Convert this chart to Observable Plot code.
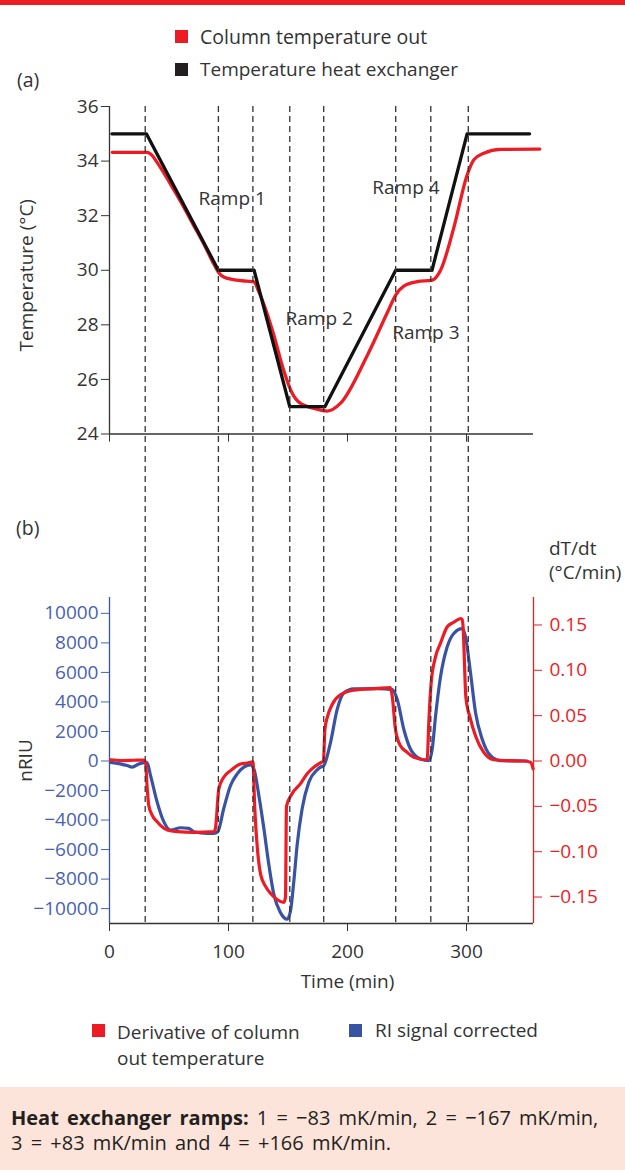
<!DOCTYPE html>
<html><head><meta charset="utf-8">
<script src="https://cdn.jsdelivr.net/npm/d3@7"></script>
<script src="https://cdn.jsdelivr.net/npm/@observablehq/plot@0.6"></script>
<style>
body{margin:0;width:625px;height:1170px;position:relative;background:#fff;font-family:"Open Sans",sans-serif;color:#333;overflow:hidden}
.abs{position:absolute;white-space:nowrap}
.txt{font-size:19.5px;line-height:22px}
.sw{position:absolute;width:13px;height:13px}
svg{position:absolute;left:0;overflow:visible}
</style></head><body>
<div class="abs" style="left:0;top:0;width:625px;height:5px;background:#ed1c24"></div>
<div class="sw" style="left:175px;top:30px;background:#ed1c24"></div>
<div class="abs txt" style="left:200px;top:26px">Column temperature out</div>
<div class="sw" style="left:175px;top:63px;background:#231f20"></div>
<div class="abs txt" style="left:200px;top:58px;font-size:19px">Temperature heat exchanger</div>
<div class="abs txt" style="left:17px;top:69px">(a)</div>
<div class="abs txt" style="left:16px;top:517px">(b)</div>
<div class="abs txt" style="left:549px;top:536px;line-height:24px;font-size:19px">dT/dt<br>(°C/min)</div>
<div id="pa"></div><div id="pb"></div><div id="pd"></div>
<div class="sw" style="left:92px;top:1024px;background:#ed1c24"></div>
<div class="abs txt" style="left:117px;top:1019px;line-height:26px;font-size:19px">Derivative of column<br>out temperature</div>
<div class="sw" style="left:349px;top:1024px;background:#3953a4"></div>
<div class="abs txt" style="left:375px;top:1019px;font-size:19px">RI signal corrected</div>
<div class="abs" style="left:0;top:1087px;width:625px;height:83px;background:#fce4da"></div>
<div class="abs" style="left:11px;top:1105px;font-size:20px;line-height:25px;word-spacing:3px;color:#231f20"><b>Heat exchanger ramps:</b> 1 = −83 mK/min, 2 = −167 mK/min,<br>3 = +83 mK/min and 4 = +166 mK/min.</div>
<script>
// ---- data ----
const dashTimes = [30, 91.5, 120.5, 151.5, 180, 240.5, 270, 301.5];
const timeTicks = [0, 100, 200, 300];
const tempTicks = [24, 26, 28, 30, 32, 34, 36];
const riTicks = [-10000, -8000, -6000, -4000, -2000, 0, 2000, 4000, 6000, 8000, 10000];
const dTicks = [-0.15, -0.10, -0.05, 0, 0.05, 0.10, 0.15];
const rampNames = ["Ramp 1", "Ramp 2", "Ramp 3", "Ramp 4"];
const rampTime = [74.8, 147.9, 237.6, 220.8];
const rampTemp = [32.6, 28.2, 27.7, 33.0];
// [time (min), temperature (°C)]
const heatExchanger = [[2,35],[31,35],[91.5,30],[121.5,30],[151.5,25],[181,25],[240.5,30],[271,30],[300.5,35],[353,35]];
const columnOut = [[2.3,34.32],[31.7,34.32],[36,34.2],[40,33.95],[50,33.25],[60,32.5],[70,31.7],[80,30.9],[88,30.2],[92,29.9],[96,29.75],[105,29.65],[115,29.6],[121,29.58],[126,29.16],[137.5,27.71],[146,26.38],[153,25.54],[160.5,25.12],[172,24.94],[183,24.84],[194,25.12],[216.5,26.87],[233.4,28.44],[240.6,29.1],[247.3,29.42],[258.6,29.58],[271.2,29.64],[278.2,30.0],[289.4,31.57],[300.6,33.5],[306.2,34.05],[314.6,34.29],[328.6,34.43],[361.6,34.44]];
// [time (min), nRIU]
const riSignal = [[0.8,-90],[14.9,-310],[19.1,-420],[24.6,-200],[30.3,-90],[31.5,-100],[34.5,-990],[40,-2770],[45.6,-4110],[51.3,-4680],[59.7,-4520],[66.7,-4560],[70.8,-4790],[82.1,-4900],[87.7,-4900],[91,-4790],[96,-3220],[101.7,-1660],[107.3,-870],[112.9,-420],[118.5,-270],[121.3,-540],[125.5,-2330],[129.7,-4560],[133.9,-7030],[138.1,-9040],[143.7,-10270],[149.3,-10720],[152.1,-10160],[154.9,-8140],[157.7,-5680],[161.9,-3220],[167.5,-1430],[174.5,-600],[177.3,-420],[180.1,-310],[185.7,1250],[191.3,3490],[196.9,4610],[205.3,4880],[225,4900],[237.6,4830],[241.8,4160],[247.3,2150],[252.9,810],[261.3,130],[268.3,20],[271.2,810],[274,3040],[278.2,5720],[283.8,7740],[289.3,8640],[296.4,8970],[299.2,8410],[303.4,5950],[307.6,3270],[313.2,1480],[320.2,360],[328.6,20],[351,0]];
// [time (min), dT/dt (°C/min)]
const derivative = [[0.8,0.0014],[10,0.0005],[20.4,0.0008],[28.8,0.001],[30.3,-0.0014],[31.7,-0.0306],[33,-0.049],[35.8,-0.0597],[40,-0.067],[48.5,-0.0761],[56.9,-0.0779],[70.8,-0.0786],[87.7,-0.0779],[89,-0.0743],[91.9,-0.0306],[96,-0.0179],[101.7,-0.0106],[110.1,-0.0033],[115.7,-0.0022],[120.5,-0.001],[122,-0.05],[124.5,-0.10],[127,-0.125],[131,-0.138],[136,-0.147],[141,-0.153],[146.5,-0.156],[147.9,-0.150],[148.7,-0.05],[153.5,-0.036],[160.5,-0.025],[166.1,-0.014],[171.7,-0.0069],[177.3,-0.002],[179.8,0.0],[181,0.035],[183,0.048],[187,0.062],[194,0.073],[205,0.078],[225,0.080],[236,0.081],[237.6,0.0713],[240.3,0.035],[244.5,0.0167],[250.2,0.0095],[255.7,0.004],[265.5,0.0014],[267,0.002],[268.3,0.042],[270.3,0.086],[274,0.115],[278.2,0.130],[283.8,0.148],[289.3,0.153],[295,0.157],[296.4,0.156],[297,0.150],[299.5,0.07],[303.4,0.046],[307.6,0.0276],[314.5,0.0095],[322.9,0.0014],[337,0.0003],[348.2,0],[353.8,-0.0014],[356,-0.0087]];

// ---- styling ----
const RED = "#ed1c24", BLUE = "#3953a4", BLUE_TXT = "#4a62ad", INK = "#333";
const FONT = '"Open Sans", sans-serif';
const xDomain = [0, 356.3];
const riDomain = [-11007, 11074];
const K = 61430; // nRIU per °C/min for the secondary axis
const base = {width: 625, marginLeft: 109, marginRight: 92,
  style: {fontFamily: FONT, fontSize: "19px", color: INK, background: "transparent", overflow: "visible"}};

const plotA = Plot.plot({...base, height: 372, marginTop: 10, marginBottom: 34.5,
  x: {domain: xDomain}, y: {domain: [24, 36]},
  marks: [
    Plot.ruleX([0], {stroke: INK, strokeWidth: 1.3}),
    Plot.ruleY([24], {stroke: INK, strokeWidth: 1.3}),
    Plot.axisY(tempTicks, {tickSize: 8, tickPadding: 3, label: null, stroke: INK}),
    Plot.axisX(timeTicks, {tickSize: 8, tickFormat: () => "", label: null, stroke: INK}),
    Plot.text(["Temperature (°C)"], {frameAnchor: "left", textAnchor: "middle", rotate: -90, dx: -83, dy: 5}),
    Plot.line(columnOut, {x: d => d[0], y: d => d[1], stroke: RED, strokeWidth: 3.3, curve: "monotone-x"}),
    Plot.line(heatExchanger, {x: d => d[0], y: d => d[1], stroke: "#111", strokeWidth: 3.3}),
    Plot.text(rampNames, {x: (d, i) => rampTime[i], y: (d, i) => rampTemp[i], textAnchor: "start", fill: INK})
  ]});
plotA.style.top = "96px";
document.getElementById("pa").append(plotA);

const plotB = Plot.plot({...base, height: 409, marginTop: 10, marginBottom: 73,
  x: {domain: xDomain}, y: {domain: riDomain},
  marks: [
    Plot.ruleX([0], {stroke: BLUE, strokeWidth: 1.3}),
    Plot.ruleX([xDomain[1]], {stroke: RED, strokeWidth: 1.3}),
    Plot.ruleY([riDomain[0]], {stroke: INK, strokeWidth: 1.3}),
    Plot.axisY(riTicks, {anchor: "left", tickSize: 8, tickPadding: 3, color: BLUE_TXT, tickFormat: d3.format("d"), label: null}),
    Plot.axisY(dTicks.map(d => d * K), {anchor: "right", tickSize: 8, tickPadding: 8, color: RED, tickFormat: d => d3.format(".2f")(d / K), label: null}),
    Plot.axisX(timeTicks, {tickSize: 8, tickPadding: 13, label: null, stroke: INK}),
    Plot.text(["Time (min)"], {x: 200, frameAnchor: "bottom", dy: 51, lineAnchor: "top"}),
    Plot.text(["nRIU"], {frameAnchor: "left", textAnchor: "middle", rotate: -90, dx: -84}),
    Plot.line(riSignal, {x: d => d[0], y: d => d[1], stroke: BLUE, strokeWidth: 3.2, curve: "monotone-x"}),
    Plot.line(derivative, {x: d => d[0], y: d => d[1] * K, stroke: RED, strokeWidth: 3.2, curve: "monotone-x"})
  ]});
plotB.style.top = "587px";
document.getElementById("pb").append(plotB);

// dashed event lines spanning both panels
const plotD = Plot.plot({...base, height: 820, marginTop: 0, marginBottom: 0,
  x: {domain: xDomain, axis: null},
  marks: [Plot.ruleX(dashTimes, {stroke: INK, strokeWidth: 1.3, strokeDasharray: "6,4"})]});
plotD.style.top = "106px";
plotD.style.pointerEvents = "none";
document.getElementById("pd").append(plotD);
</script>
</body></html>
